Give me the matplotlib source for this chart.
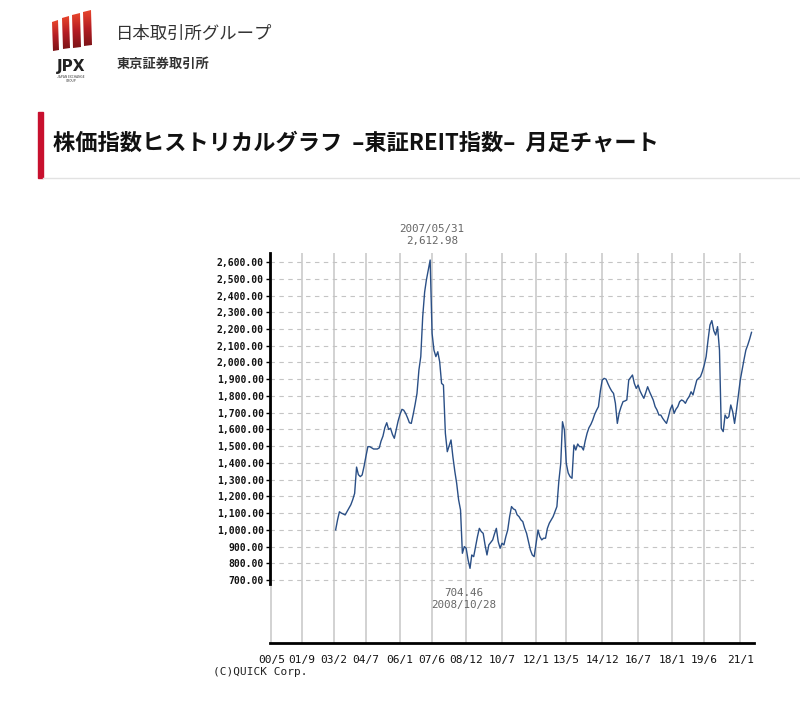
import numpy as np
import pandas as pd
import matplotlib
matplotlib.use("Agg")
import matplotlib.pyplot as plt
from matplotlib.patches import Polygon, Rectangle

plt.rcParams["font.family"] = ["Noto Sans CJK JP", "DejaVu Sans"]

# monthly closes of the TSE REIT index (2003/3 .. 2021/7)
start_month = "2003-03-01"
reit_close = [
    1000, 1060, 1108, 1100, 1095, 1089, 1110, 1129, 1150, 1180,
    1218, 1375, 1330, 1318, 1328, 1380, 1440, 1497, 1497, 1490, 1483, 1483,
    1483, 1490, 1530, 1560, 1610, 1640, 1600, 1607, 1570, 1547, 1600, 1650,
    1690, 1720, 1715, 1696, 1670, 1640, 1636, 1690, 1750, 1815, 1955, 2035,
    2273, 2420, 2492, 2552, 2612, 2174, 2074, 2035, 2064, 2005, 1875, 1865,
    1577, 1467, 1500, 1537, 1437, 1350, 1278, 1180, 1119, 860, 900, 890,
    820, 770, 850, 840, 900, 960, 1009, 990, 979, 910, 850, 910,
    925, 940, 975, 1009, 930, 890, 920, 910, 960, 999, 1080, 1139,
    1125, 1119, 1090, 1079, 1060, 1049, 1010, 979, 930, 880, 850, 840,
    920, 999, 960, 940, 950, 950, 1009, 1040, 1060, 1079, 1110, 1139,
    1290, 1397, 1646, 1597, 1397, 1340, 1318, 1308, 1507, 1477, 1513, 1497,
    1497, 1477, 1530, 1577, 1610, 1630, 1656, 1690, 1715, 1736, 1830, 1895,
    1905, 1900, 1875, 1850, 1830, 1815, 1756, 1636, 1700, 1736, 1766, 1770,
    1776, 1895, 1910, 1925, 1875, 1845, 1865, 1830, 1806, 1786, 1820, 1855,
    1825, 1800, 1776, 1736, 1716, 1686, 1686, 1666, 1650, 1636, 1676, 1720,
    1746, 1696, 1720, 1736, 1766, 1776, 1770, 1756, 1780, 1796, 1825, 1806,
    1850, 1895, 1905, 1915, 1945, 1985, 2035, 2134, 2224, 2250, 2190, 2164,
    2214, 2074, 1606, 1587, 1686, 1666, 1676, 1746, 1706, 1636, 1716, 1806,
    1895, 1960, 2015, 2074, 2104, 2140, 2180,
]
tick_labels = ["00/5", "01/9", "03/2", "04/7", "06/1", "07/6", "08/12", "10/7",
               "12/1", "13/5", "14/12", "16/7", "18/1", "19/6", "21/1"]
ytick_values = list(range(700, 2700, 100))
peak_date, peak_value = "2007/05/31", 2612.98
low_date, low_value = "2008/10/28", 704.46

dates = pd.date_range(start_month, periods=len(reit_close), freq="MS")
tick_dates = [pd.Timestamp(2000 + int(t.split("/")[0]), int(t.split("/")[1]), 1)
              for t in tick_labels]

fig = plt.figure(figsize=(8, 7.04), dpi=100)

# ---- page header (pixel coordinates) ----
hax = fig.add_axes([0, 0, 1, 1])
hax.set_xlim(0, 800)
hax.set_ylim(704, 0)
hax.axis("off")

stripes = [
    [(52, 22), (58, 20), (59, 50), (53, 51)],
    [(62, 18), (69, 16), (70, 48), (63, 49)],
    [(72, 15), (80, 13), (81, 47), (73, 48)],
    [(83, 12), (91, 10), (92, 45), (84, 46)],
]
grad = np.linspace(0, 1, 64).reshape(-1, 1)
jpx_cmap = matplotlib.colors.LinearSegmentedColormap.from_list(
    "jpx", ["#e8452c", "#b51d24", "#7d1418"])
for pts in stripes:
    poly = Polygon(pts, closed=True, facecolor="none", edgecolor="none")
    hax.add_patch(poly)
    xs = [p[0] for p in pts]
    ys = [p[1] for p in pts]
    im = hax.imshow(grad, cmap=jpx_cmap, aspect="auto",
                    extent=(min(xs), max(xs), max(ys), min(ys)))
    im.set_clip_path(poly)
hax.set_xlim(0, 800)
hax.set_ylim(704, 0)
hax.text(71, 67, "JPX", fontsize=11, fontweight="bold", ha="center", va="center",
         color="#222222", family=["DejaVu Sans"])
hax.text(71, 77, "JAPAN EXCHANGE", fontsize=2.3, ha="center", va="center", color="#333333")
hax.text(71, 81, "GROUP", fontsize=2.3, ha="center", va="center", color="#333333")
hax.text(116, 34, "日本取引所グループ", fontsize=12.5, ha="left", va="center", color="#333333")
hax.text(117, 64, "東京証券取引所", fontsize=9.5, fontweight="bold", ha="left", va="center",
         color="#333333")

hax.add_patch(Rectangle((38, 112), 5, 66, color="#c8102e"))
hax.plot([43, 800], [178, 178], color="#e2e2e2", lw=1)
hax.text(53, 143, "株価指数ヒストリカルグラフ  –東証REIT指数–  月足チャート", fontsize=16,
         fontweight="bold", ha="left", va="center", color="#111111")

hax.text(213, 672, "(C)QUICK Corp.", fontsize=8, ha="left", va="center",
         color="#222222", family=["DejaVu Sans Mono"])

# ---- chart ----
ax = fig.add_axes([270 / 800, 1 - 643 / 704, 484 / 800, 390 / 704])
ax.set_facecolor("none")
ax.plot(dates, reit_close, color="#2a4f86", lw=1.0, zorder=3)

ax.set_xlim(pd.Timestamp("2000-04-08"), pd.Timestamp("2021-08-10"))
ax.set_ylim(324, 2654)
ax.set_yticks(ytick_values)
ax.set_yticklabels([f"{v:,.2f}" for v in ytick_values], family=["DejaVu Sans Mono"],
                   fontsize=7, fontweight="bold", color="#111111")
ax.set_xticks(tick_dates)
ax.set_xticklabels(tick_labels, family=["DejaVu Sans Mono"], fontsize=8, color="#111111")
ax.tick_params(axis="y", length=3, width=1, pad=1.5, direction="out")
ax.tick_params(axis="x", length=0, pad=9)

ax.yaxis.grid(True, linestyle=(0, (4, 4)), color="#c4c4c4", lw=0.8)
ax.xaxis.grid(True, linestyle="-", color="#d2d2d2", lw=1.4)
ax.set_axisbelow(True)

for side in ("top", "right"):
    ax.spines[side].set_visible(False)
ax.spines["left"].set_linewidth(2)
ax.spines["left"].set_bounds(676, 2654)
ax.spines["bottom"].set_linewidth(2)

ax.annotate(f"{peak_date}\n{peak_value:,.2f}", xy=(pd.Timestamp(peak_date), peak_value),
            xytext=(0, 10), textcoords="offset points", ha="center", va="bottom",
            fontsize=7.8, color="#666666", family=["DejaVu Sans Mono"],
            linespacing=1.3, annotation_clip=False)
ax.annotate(f"{low_value:,.2f}\n{low_date}", xy=(pd.Timestamp(low_date), low_value),
            xytext=(0, -6), textcoords="offset points", ha="center", va="top",
            fontsize=7.8, color="#666666", family=["DejaVu Sans Mono"],
            linespacing=1.3, annotation_clip=False)

fig.savefig("out.png", dpi=100)
